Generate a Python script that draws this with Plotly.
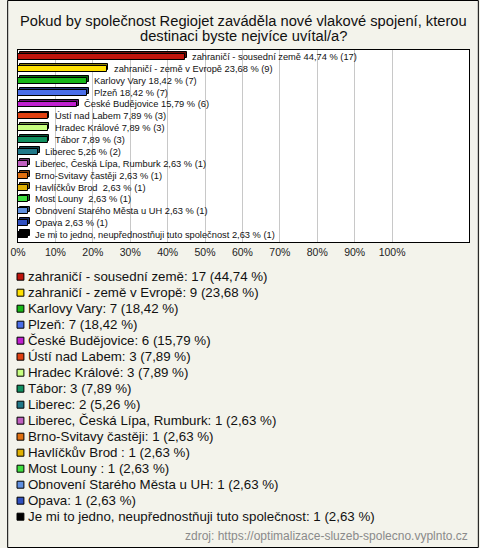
import plotly.graph_objects as go

# ---- data ----
categories = [
    "zahraničí - sousední země",
    "zahraničí - země v Evropě",
    "Karlovy Vary",
    "Plzeň",
    "České Budějovice",
    "Ústí nad Labem",
    "Hradec Králové",
    "Tábor",
    "Liberec",
    "Liberec, Česká Lípa, Rumburk",
    "Brno-Svitavy častěji",
    "Havlíčkův Brod ",
    "Most Louny ",
    "Obnovení Starého Města u UH",
    "Opava",
    "Je mi to jedno, neupřednostňuji tuto společnost",
]
counts = [17, 9, 7, 7, 6, 3, 3, 3, 2, 1, 1, 1, 1, 1, 1, 1]
percents = [44.74, 23.68, 18.42, 18.42, 15.79, 7.89, 7.89, 7.89, 5.26,
            2.63, 2.63, 2.63, 2.63, 2.63, 2.63, 2.63]
colors = ["#c0140c", "#ffe000", "#18b818", "#4a6ee8", "#c020d0", "#e04010",
          "#c8ff80", "#109060", "#207888", "#c060c0", "#e07010", "#e0b000",
          "#40e040", "#6090e0", "#3050c0", "#000000"]
tick_vals = [0, 10, 20, 30, 40, 50, 60, 70, 80, 90, 100]
tick_text = [f"{v}%" for v in tick_vals]
title_lines = ["Pokud by společnost Regiojet zaváděla nové vlakové spojení, kterou",
               "destinaci byste nejvíce uvítal/a?"]
source_text = "zdroj: https://optimalizace-sluzeb-spolecno.vyplnto.cz"

W, H = 480, 548
ML, MR, MT, MB = 11, 10, 50, 306
PW, PH = W - ML - MR, H - MT - MB
FONT = "Liberation Sans, Arial, sans-serif"


def px_x(px):
    return (px - ML) / PW


def px_y(py):
    return 1 - (py - MT) / PH


def fmt(v):
    return f"{v:.2f}".replace(".", ",")


def darker(hexc, f=0.55):
    r, g, b = int(hexc[1:3], 16), int(hexc[3:5], 16), int(hexc[5:7], 16)
    return f"rgb({int(r*f)},{int(g*f)},{int(b*f)})"


fig = go.Figure()

# 3D depth (shadow) bars
fig.add_trace(go.Bar(
    y=categories, x=percents, orientation="h",
    base=0.5, width=0.5, offset=-0.4,
    marker=dict(color=[darker(c) for c in colors], line=dict(color="black", width=1)),
    hoverinfo="skip", showlegend=False,
))
# front bars
fig.add_trace(go.Bar(
    y=categories, x=percents, orientation="h",
    width=0.5, offset=-0.25,
    marker=dict(color=colors, line=dict(color="black", width=1)),
    showlegend=False,
))

annotations = []
for cat, p, c in zip(categories, percents, counts):
    label = cat.replace(" ", "\u00a0") if cat.endswith(" ") else cat
    annotations.append(dict(
        x=p, y=cat, xref="x", yref="y", xanchor="left", yanchor="middle",
        xshift=5, showarrow=False,
        text=f"{label} {fmt(p)} % ({c})",
        font=dict(family=FONT, size=9.3, color="#111"),
    ))

# title
for i, line in enumerate(title_lines):
    annotations.append(dict(
        x=px_x(240), y=px_y(21 + 14.5 * i), xref="paper", yref="paper",
        xanchor="center", yanchor="middle", showarrow=False, text=line,
        font=dict(family=FONT, size=14.7, color="#111"),
    ))

shapes = []
# legend
for i, (cat, p, c, col) in enumerate(zip(categories, percents, counts, colors)):
    cy = 276.7 + 16 * i
    shapes.append(dict(type="rect", xref="paper", yref="paper",
                       x0=px_x(10), x1=px_x(17), y0=px_y(cy - 3.5), y1=px_y(cy + 3.5),
                       fillcolor=col, line=dict(color="black", width=1)))
    annotations.append(dict(
        x=px_x(19), y=px_y(cy), xref="paper", yref="paper",
        xanchor="left", yanchor="middle", showarrow=False,
        text=f"{cat}: {c} ({fmt(p)} %)",
        font=dict(family=FONT, size=13.3, color="#111"),
    ))

annotations.append(dict(
    x=px_x(471), y=px_y(536), xref="paper", yref="paper",
    xanchor="right", yanchor="middle", showarrow=False, text=source_text,
    font=dict(family=FONT, size=12, color="#8a8a8a"),
))

# outer frame
shapes.append(dict(type="rect", xref="paper", yref="paper",
                   x0=px_x(0.5), x1=px_x(W - 0.5), y0=px_y(H - 0.5), y1=px_y(0.5),
                   line=dict(color="black", width=1), fillcolor="rgba(0,0,0,0)",
                   layer="below"))

fig.update_layout(
    width=W, height=H,
    margin=dict(l=ML, r=MR, t=MT, b=MB, pad=0),
    paper_bgcolor="#f3f3eb", plot_bgcolor="white",
    barmode="overlay", bargap=0,
    annotations=annotations, shapes=shapes,
    font=dict(family=FONT),
    xaxis=dict(range=[0, PW / 3.807], tickvals=tick_vals, ticktext=tick_text,
               showgrid=True, gridcolor="#c8c8c8", gridwidth=1, zeroline=False,
               showline=True, linecolor="black", linewidth=1, mirror=True,
               ticks="", tickfont=dict(family=FONT, size=10.5, color="#222"),
               fixedrange=True),
    yaxis=dict(type="category", autorange="reversed", showticklabels=False,
               showgrid=False, zeroline=False, showline=True, linecolor="black",
               linewidth=1, mirror=True, ticks="", fixedrange=True),
)

fig.write_html("out.html", config={"displayModeBar": False},
               post_script="document.body.style.margin='0';")
